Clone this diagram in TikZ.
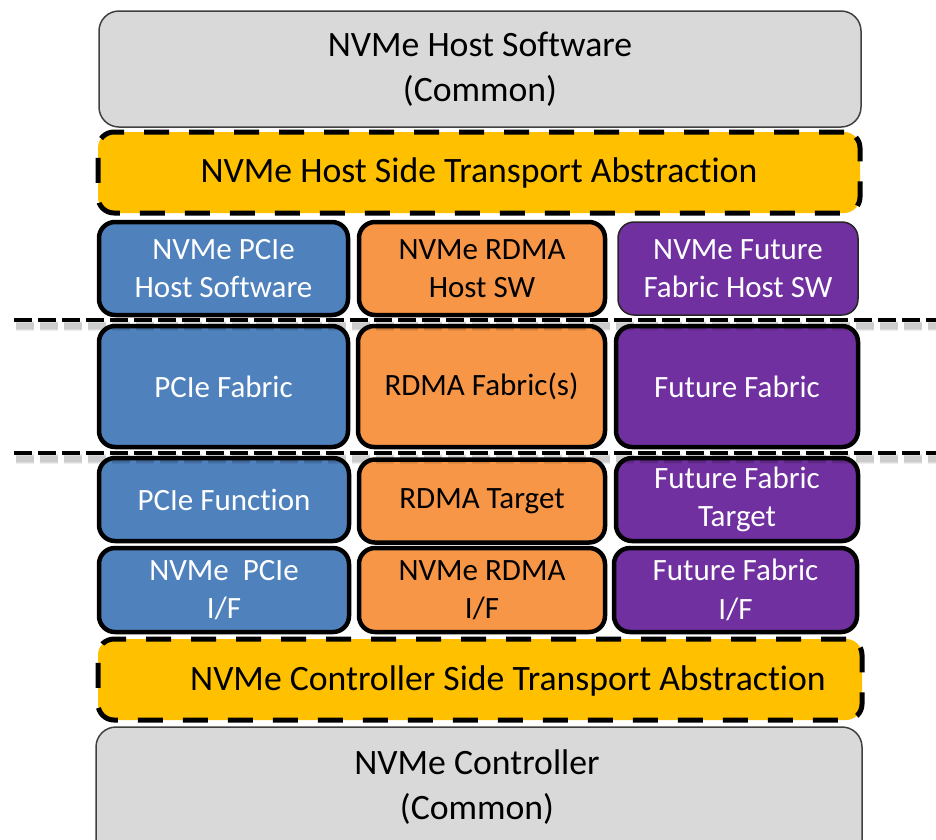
\documentclass[tikz,border=0pt]{standalone}
\usepackage{fontspec}
\setmainfont{Carlito}[Ligatures={NoCommon,NoContextual}]
\begin{document}
\begin{tikzpicture}[x=1pt,y=-1pt,
  every node/.style={inner sep=0pt, outer sep=0pt},
  bigtxt/.style={font=\fontsize{35.7}{44.5}\selectfont, align=center},
  smalltxt/.style={font=\fontsize{31}{38.5}\selectfont, align=center},
  graybox/.style={draw=black!75, line width=1.5pt, fill=graycol, rounded corners=20pt},
  yellowbox/.style={draw=black, line width=5pt, dash pattern=on 25pt off 20pt, fill=yellowcol, rounded corners=16pt},
  layerbox/.style={draw=black, line width=4.5pt, rounded corners=16pt, smalltxt},
  thinbox/.style={draw=black!85, line width=1.5pt, rounded corners=16pt, smalltxt},
  bluebox/.style={fill=bluecol, text=white},
  orangebox/.style={fill=orangecol, text=black},
  purplebox/.style={fill=purplecol, text=white},
  sepline/.style={line width=4.5pt, dash pattern=on 18pt off 6pt},
  sepshadow/.style={dash pattern=on 18pt off 6pt, draw=black, opacity=0.07}
]
\definecolor{graycol}{HTML}{D9D9D9}
\definecolor{yellowcol}{HTML}{FFC000}
\definecolor{bluecol}{HTML}{4F81BD}
\definecolor{orangecol}{HTML}{F79646}
\definecolor{purplecol}{HTML}{7030A0}
\useasboundingbox[fill=white] (0,0) rectangle (936,839);

% top common
\node[graybox, bigtxt, minimum width=762pt, minimum height=116pt] (host) at (480,69)
  {NVMe Host Software\\(Common)};
\node[yellowbox, bigtxt, minimum width=762pt, minimum height=81pt] (hsta) at (479,172.5)
  {NVMe Host Side Transport Abstraction};

% row 1
\node[layerbox, bluebox, minimum width=249pt, minimum height=93pt] (pcihost) at (223.5,268.5)
  {NVMe PCIe\\Host Software};
\node[layerbox, orangebox, minimum width=246pt, minimum height=93pt] (rdmahost) at (482,268.5)
  {NVMe RDMA\\Host SW};
\node[thinbox, purplebox, minimum width=240pt, minimum height=93pt] (futhost) at (738,268.5)
  {NVMe Future\\Fabric Host SW};

% row 2
\node[layerbox, bluebox, minimum width=249pt, minimum height=121pt] (pcifab) at (223.5,386.5)
  {PCIe Fabric};
\node[layerbox, orangebox, minimum width=247pt, minimum height=121pt] (rdmafab) at (481.5,386.5)
  {RDMA Fabric(s)};
\node[layerbox, purplebox, minimum width=242pt, minimum height=121pt] (futfab) at (737,386.5)
  {Future Fabric};

% row 3
\node[layerbox, bluebox, minimum width=250pt, minimum height=83pt] (pcifun) at (224,499.5)
  {PCIe Function};
\node[layerbox, orangebox, minimum width=246pt, minimum height=83pt] (rdmatgt) at (482,501)
  {RDMA Target};
\node[layerbox, purplebox, minimum width=242pt, minimum height=83pt] (futtgt) at (737,499.5)
  {Future Fabric\\Target};

% row 4
\node[layerbox, bluebox, minimum width=250pt, minimum height=84pt] (pciif) at (224,590)
  {NVMe\ \ PCIe\\I/F};
\node[layerbox, orangebox, minimum width=246pt, minimum height=84pt] (rdmaif) at (482,590)
  {NVMe RDMA\\I/F};
\node[layerbox, purplebox, minimum width=243pt, minimum height=84pt] (futif) at (735.5,590)
  {Future Fabric\\I/F};

% controller side
\node[yellowbox, minimum width=764pt, minimum height=81pt] (csta) at (480,679.5) {};
\node[bigtxt] (cstatext) at (508,681) {NVMe Controller Side Transport Abstraction};
\node[graybox, minimum width=766pt, minimum height=150pt] (ctrl) at (479,802) {};
\node[bigtxt] (ctrltext) at (477,787) {NVMe Controller\\(Common)};

% separators
\coordinate (s1a) at (14,320);
\coordinate (s1b) at (950,320);
\coordinate (s2a) at (14,453);
\coordinate (s2b) at (950,453);
\foreach \w in {10,8,6} {
  \draw[sepshadow, line width=\w pt] ([shift={(2,6)}]s1a) -- ([shift={(2,6)}]s1b);
  \draw[sepshadow, line width=\w pt] ([shift={(2,6)}]s2a) -- ([shift={(2,6)}]s2b);
}
\draw[sepline] (s1a) -- (s1b);
\draw[sepline] (s2a) -- (s2b);
\end{tikzpicture}
\end{document}
